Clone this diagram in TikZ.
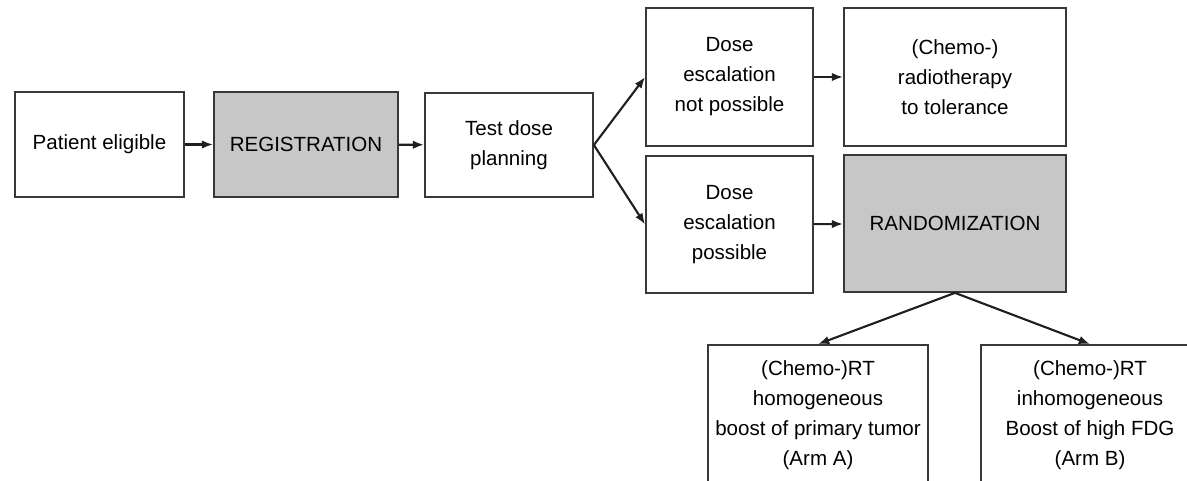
\documentclass[tikz,border=0pt]{standalone}
\usepackage{fontspec}
\setmainfont{Liberation Sans}
\usetikzlibrary{arrows.meta}

\begin{document}
\begin{tikzpicture}[x=0.025cm, y=-0.025cm,
    box/.style={draw=black!78, line width=1.2pt, align=center, inner sep=0pt, font=\fontsize{14.6}{21.3}\selectfont},
    greybox/.style={box, fill=black!22},
    arr/.style={-{Latex[length=8pt,width=6pt]}, line width=1.5pt, black!88}]
    \useasboundingbox (0,0) rectangle (1187,480);
    \clip (0,0) rectangle (1187,480);
    % first row
    \node[box, minimum width=4.225cm, minimum height=2.625cm] (pat) at (99.5,144.5) {Patient eligible};
    \node[greybox, minimum width=4.6cm, minimum height=2.625cm] (reg) at (306,144.5) {REGISTRATION};
    \node[box, minimum width=4.2cm, minimum height=2.6cm] (test) at (509,145) {Test dose\\planning};
    % the two branches
    \node[box, minimum width=4.175cm, minimum height=3.45cm] (nop) at (729.5,77) {Dose\\escalation\\not possible};
    \node[box, minimum width=4.175cm, minimum height=3.425cm] (pos) at (729.5,224.5) {Dose\\escalation\\possible};
    \node[box, minimum width=5.55cm, minimum height=3.45cm] (chemo) at (955,77) {(Chemo-)\\radiotherapy\\to tolerance};
    \node[greybox, minimum width=5.55cm, minimum height=3.425cm] (rand) at (955,223.5) {RANDOMIZATION};
    % arms
    \node[box, minimum width=5.5cm, minimum height=3.5cm] (armA) at (818,415) {(Chemo-)RT\\homogeneous\\boost of primary tumor\\(Arm A)};
    \node[box, minimum width=5.45cm, minimum height=3.5cm] (armB) at (1090,415) {(Chemo-)RT\\inhomogeneous\\Boost of high FDG\\(Arm B)};

    \draw[arr] (pat) -- (reg);
    \draw[arr] (reg) -- (test);
    \draw[arr] (test.east) -- (nop.west);
    \draw[arr] (test.east) -- (pos.west);
    \draw[arr] (nop) -- (chemo);
    \draw[arr] (pos) -- (rand);
    \draw[arr] (rand.south) -- (armA.north);
    \draw[arr] (rand.south) -- (armB.north);
\end{tikzpicture}
\end{document}
